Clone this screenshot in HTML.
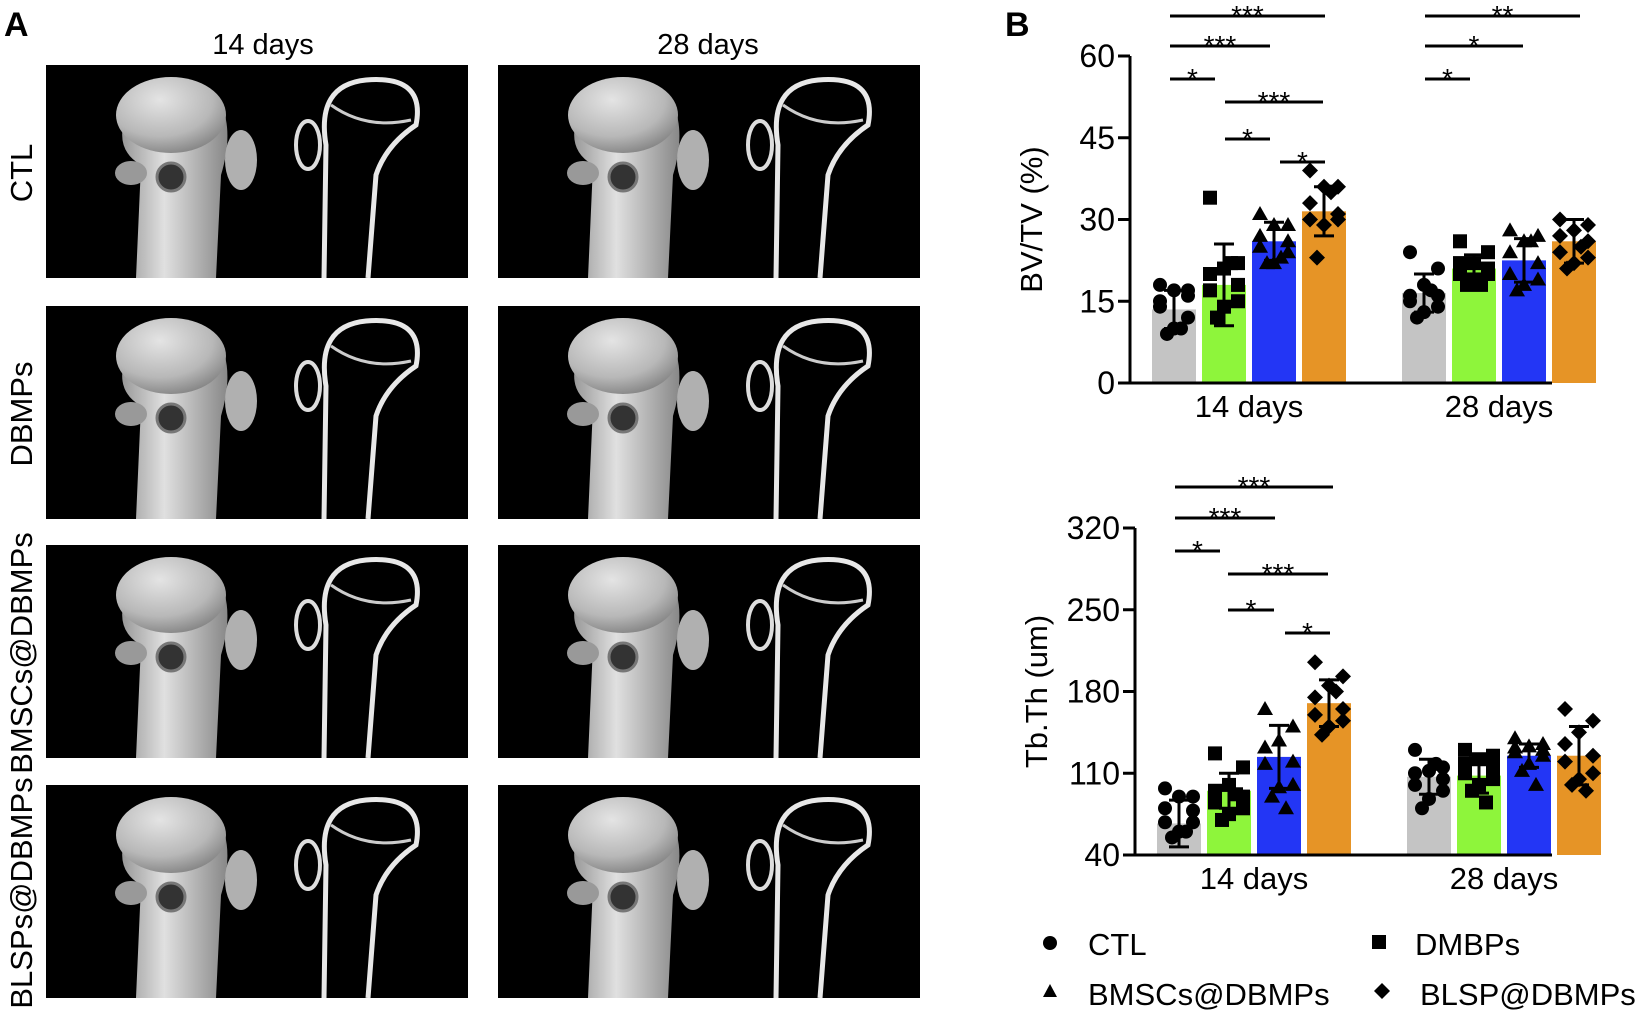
<!DOCTYPE html>
<html><head><meta charset="utf-8"><style>
html,body{margin:0;padding:0;background:#fff;}
svg{display:block;font-family:"Liberation Sans",Arial,sans-serif;}
</style></head><body>
<svg id="fig" width="1638" height="1018" viewBox="0 0 1638 1018" xmlns="http://www.w3.org/2000/svg">
<defs>
<radialGradient id="boneG" cx="0.4" cy="0.3" r="0.8"><stop offset="0" stop-color="#e4e4e4"/><stop offset="0.6" stop-color="#b8b8b8"/><stop offset="1" stop-color="#777"/></radialGradient>
<linearGradient id="shaftG" x1="0" x2="1"><stop offset="0" stop-color="#999"/><stop offset="0.4" stop-color="#e0e0e0"/><stop offset="1" stop-color="#888"/></linearGradient>
</defs>
<text x="4" y="36" font-size="34" font-weight="bold">A</text>
<text x="263" y="54" font-size="29" text-anchor="middle">14 days</text>
<text x="708" y="54" font-size="29" text-anchor="middle">28 days</text>
<g id="panelA"></g>
<text x="1005" y="36" font-size="34" font-weight="bold">B</text>
<g id="chart1"></g>
<g id="chart2"></g>
<g id="legend">
<g><circle cx="1050" cy="943" r="7" fill="#000"/><text x="1088" y="955" font-size="31">CTL</text></g>
<g><rect x="1372" y="935" width="14" height="14" fill="#000"/><text x="1415" y="955" font-size="31">DMBPs</text></g>
<g><polygon points="1050,984 1057,997 1043,997" fill="#000"/><text x="1088" y="1005" font-size="31">BMSCs@DBMPs</text></g>
<g><polygon points="1382,983 1390,991 1382,999 1374,991" fill="#000"/><text x="1420" y="1005" font-size="31">BLSP@DBMPs</text></g>
</g>
</svg>
<script>
const NS="http://www.w3.org/2000/svg";
function mk(tag,attrs,parent){const e=document.createElementNS(NS,tag);for(const k in attrs)e.setAttribute(k,attrs[k]);parent.appendChild(e);return e;}

// ---------- Panel A images ----------
const rowLabels=["CTL","DBMPs","BMSCs@DBMPs","BLSPs@DBMPs"];
const rowTops=[65,306,545,785];
const colLefts=[46,498];
const pA=document.getElementById('panelA');
rowLabels.forEach((lab,r)=>{
  const y0=rowTops[r];
  const t=mk('text',{x:0,y:0,'font-size':31,'text-anchor':'middle',transform:`translate(32,${y0+108}) rotate(-90)`},document.getElementById('fig'));
  
  
  t.textContent=lab;
  colLefts.forEach((x0,c)=>{
    const g=mk('g',{},pA);
    
    
    mk('rect',{x:x0,y:y0,width:422,height:213,fill:'#000'},g);
    const bx=x0+130;
    mk('path',{d:`M${bx-40},${y0+213} L${bx-35},${y0+100} Q${bx-70},${y0+80} ${bx-40},${y0+30} Q${bx},${y0+5} ${bx+40},${y0+30} Q${bx+60},${y0+60} ${bx+45},${y0+110} L${bx+40},${y0+213} Z`,fill:'url(#shaftG)'},g);
    mk('ellipse',{cx:bx-5,cy:y0+50,rx:55,ry:38,fill:'url(#boneG)'},g);
    mk('ellipse',{cx:bx+65,cy:y0+95,rx:16,ry:30,fill:'#b0b0b0'},g);
    mk('ellipse',{cx:bx-45,cy:y0+108,rx:16,ry:12,fill:'#999'},g);
    mk('circle',{cx:bx-5,cy:y0+112,r:14,fill:'#333',stroke:'#777','stroke-width':3},g);
    const sx=x0+300;
    mk('path',{d:`M${sx-22},${y0+213} L${sx-20},${y0+80} Q${sx-30},${y0+20} ${sx+20},${y0+15} Q${sx+80},${y0+10} ${sx+70},${y0+60} Q${sx+40},${y0+80} ${sx+30},${y0+110} L${sx+22},${y0+213}`,fill:'none',stroke:'#e8e8e8','stroke-width':5},g);
    mk('path',{d:`M${sx-15},${y0+40} Q${sx+20},${y0+65} ${sx+65},${y0+55}`,fill:'none',stroke:'#ccc','stroke-width':3},g);
    mk('ellipse',{cx:sx-38,cy:y0+80,rx:12,ry:24,fill:'none',stroke:'#ddd','stroke-width':4},g);
  });
});
mk('rect',{x:888,y:1006,width:36,height:4,fill:'#fff'},pA);

// ---------- Charts ----------
const categories=["14 days","28 days"];
const groups=["CTL","DMBPs","BMSCs@DBMPs","BLSP@DBMPs"];
const colors=["#c4c4c4","#8ef53b","#2336f5","#e69426"];
const bvMeans=[[13.5,18,26,31.5],[16.5,21,22.5,26]];
const bvSD=[[3.5,7.5,3.5,4.5],[3.5,2.5,4,4]];
const bvPoints=[
 [[18,16,17,15,17,14,12,10,9,10],[34,22,21,20,18,17,15,14,12,22],[31,29,29,27,26,25,24,22,22,23],[39,36,36,33,31,30,30,29,23,35]],
 [[24,21,18,16,16,15,14,13,12,17],[26,24,22,22,21,20,20,19,18,18],[28,27,26,24,22,20,19,18,17,26],[30,29,28,27,26,24,23,22,21,25]]
];
const bvTicks=[0,15,30,45,60];
const thMeans=[[67,95,124,170],[107,108,125,125]];
const thSD=[[20,15,27,20],[15,15,10,25]];
const thPoints=[
 [[97,90,90,80,78,68,68,60,55,60],[127,115,100,95,90,85,80,75,70,92],[165,150,138,132,120,118,100,98,90,80],[205,193,185,175,165,160,155,150,143,180]],
 [[130,115,112,110,105,100,95,88,80,118],[130,125,122,118,115,110,105,100,95,85],[140,135,133,132,130,128,125,118,112,100],[165,155,145,135,125,120,110,105,100,95]]
];
const thTicks=[40,110,180,250,320];

function drawChart(gid,means,sds,points,ticks,ymin,ymax,yBottom,yTop,axisX,groupStarts,ylabel,sig){
  const g=document.getElementById(gid);
  const ys=v=>yBottom-(v-ymin)/(ymax-ymin)*(yBottom-yTop);
  const bw=44,gap=6;
  const markers=[
    (x,y,p)=>mk('circle',{cx:x,cy:y,r:7,fill:'#000'},p),
    (x,y,p)=>mk('rect',{x:x-7,y:y-7,width:14,height:14,fill:'#000'},p),
    (x,y,p)=>mk('polygon',{points:`${x},${y-8} ${x+8},${y+6} ${x-8},${y+6}`,fill:'#000'},p),
    (x,y,p)=>mk('polygon',{points:`${x},${y-8} ${x+8},${y} ${x},${y+8} ${x-8},${y}`,fill:'#000'},p)
  ];
  categories.forEach((cat,ci)=>{
    const x0=groupStarts[ci];
    means[ci].forEach((m,gi)=>{
      const x=x0+gi*(bw+gap);
      const b=mk('rect',{x:x,y:ys(m),width:bw,height:yBottom-ys(m),fill:colors[gi]},g);
      
      
      const cx=x+bw/2;
      const eg=mk('g',{stroke:'#000','stroke-width':3},g);
      
      
      const hi=m+sds[ci][gi],lo=Math.max(ymin,m-sds[ci][gi]);
      mk('line',{x1:cx,x2:cx,y1:ys(hi),y2:ys(lo)},eg);
      mk('line',{x1:cx-10,x2:cx+10,y1:ys(hi),y2:ys(hi)},eg);
      mk('line',{x1:cx-10,x2:cx+10,y1:ys(lo),y2:ys(lo)},eg);
      const pg=mk('g',{},g);
      
      
      points[ci][gi].forEach((v,k)=>{
        const off=[-14,14,0,-14,14,-14,14,0,-7,7][k];
        markers[gi](cx+off,ys(v),pg);
      });
    });
    const t=mk('text',{x:x0+2*(bw+gap)-gap/2,y:yBottom+34,'font-size':31,'text-anchor':'middle'},g);
    
    
    t.textContent=cat;
  });
  const ax=mk('g',{stroke:'#000','stroke-width':3},g);
  
  
  mk('line',{x1:axisX,x2:axisX,y1:ys(ymax),y2:yBottom},ax);
  mk('line',{x1:axisX-12,x2:1552,y1:yBottom,y2:yBottom},ax);
  ticks.forEach(v=>{
    mk('line',{x1:axisX-12,x2:axisX,y1:ys(v),y2:ys(v)},ax);
    const t=mk('text',{x:axisX-15,y:ys(v)+11,'font-size':32,'text-anchor':'end'},g);
    
    
    t.textContent=v;
  });
  const yl=mk('text',{x:0,y:0,'font-size':31,'text-anchor':'middle',transform:`translate(${axisX-88},${(yTop+yBottom)/2}) rotate(-90)`},g);
  
  
  yl.textContent=ylabel;
  sig.forEach((s,i)=>{
    const sg=mk('g',{},g);
    
    
    mk('line',{x1:s[1],x2:s[2],y1:s[0],y2:s[0],stroke:'#000','stroke-width':3},sg);
    const t=mk('text',{x:(s[1]+s[2])/2,y:s[0]+9,'font-size':28,'text-anchor':'middle'},sg);
    t.textContent=s[3];
  });
}
drawChart('chart1',bvMeans,bvSD,bvPoints,bvTicks,0,60,383,56,1130,[1152,1402],"BV/TV (%)",
 [[16,1170,1325,"***"],[46,1170,1270,"***"],[79,1170,1215,"*"],[102,1225,1323,"***"],[139,1225,1270,"*"],[162,1280,1325,"*"],
  [16,1425,1580,"**"],[46,1425,1523,"*"],[79,1425,1470,"*"]]);
drawChart('chart2',thMeans,thSD,thPoints,thTicks,40,320,855,528,1135,[1157,1407],"Tb.Th (um)",
 [[487,1175,1333,"***"],[518,1175,1275,"***"],[551,1175,1220,"*"],[574,1228,1328,"***"],[610,1228,1274,"*"],[633,1285,1330,"*"]]);
</script>
</body></html>
